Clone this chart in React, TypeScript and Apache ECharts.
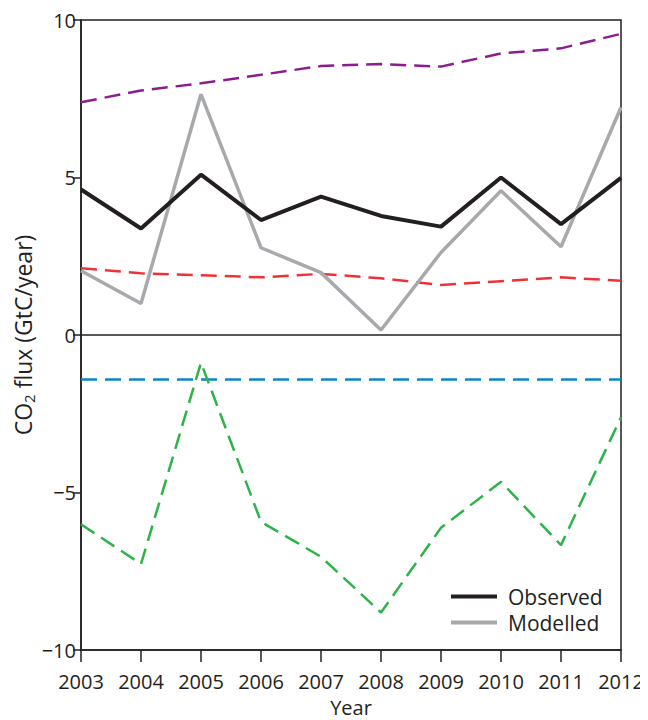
import React, { useEffect, useRef } from "react";
import * as echarts from "echarts";

const years = ["2003", "2004", "2005", "2006", "2007", "2008", "2009", "2010", "2011", "2012"];
const observed = [4.62, 3.38, 5.09, 3.65, 4.39, 3.78, 3.44, 5.0, 3.52, 4.99];
const modelled = [2.04, 1.0, 7.64, 2.77, 1.98, 0.16, 2.62, 4.58, 2.8, 7.23];
const purpleFlux = [7.39, 7.76, 7.99, 8.26, 8.54, 8.6, 8.52, 8.94, 9.1, 9.56];
const redFlux = [2.12, 1.96, 1.9, 1.83, 1.94, 1.8, 1.59, 1.71, 1.83, 1.72];
const blueFlux = [-1.41, -1.41, -1.41, -1.41, -1.41, -1.41, -1.41, -1.41, -1.41, -1.41];
const greenFlux = [-6.01, -7.27, -0.88, -5.93, -7.04, -8.81, -6.12, -4.66, -6.67, -2.61];

const FONT = "'Open Sans', 'Noto Sans', sans-serif";
const INK = "#231f20";

export default function App() {
  const ref = useRef<HTMLDivElement>(null);
  useEffect(() => {
    if (!ref.current) return;
    const chart = echarts.init(ref.current, null, { renderer: "svg" });
    const dashed = (name: string, data: number[], color: string) => ({
      name,
      type: "line",
      data,
      symbol: "none",
      lineStyle: { color, width: 2.5, type: [16, 8] },
      z: 2,
    });
    chart.setOption({
      animation: false,
      backgroundColor: "#ffffff",
      textStyle: { fontFamily: FONT, color: INK },
      grid: {
        left: 73,
        right: 27,
        top: 12,
        bottom: 70,
        containLabel: false,
        outerBoundsMode: "none",
        show: true,
        borderColor: INK,
        borderWidth: 1.5,
        backgroundColor: "transparent",
      },
      legend: {
        data: ["Observed", "Modelled"],
        orient: "vertical",
        left: 438,
        top: 573,
        icon: "rect",
        itemWidth: 46,
        itemHeight: 4,
        itemGap: 5,
        textStyle: { fontFamily: FONT, fontSize: 21, lineHeight: 21, color: INK, padding: [0, 0, 0, 6] },
      },
      xAxis: {
        type: "category",
        data: years,
        boundaryGap: false,
        name: "Year",
        nameLocation: "middle",
        nameGap: 47,
        nameMoveOverlap: false,
        nameTextStyle: { fontFamily: FONT, fontSize: 20, color: INK },
        axisLine: { onZero: false, lineStyle: { color: INK, width: 1.5 } },
        axisTick: { show: true, inside: false, length: 12, lineStyle: { color: INK, width: 1.5 }, alignWithLabel: true },
        axisLabel: { fontFamily: FONT, fontSize: 20, color: INK, margin: 21, interval: 0 },
        splitLine: { show: false },
      },
      yAxis: {
        type: "value",
        min: -10,
        max: 10,
        interval: 5,
        name: "{n|CO}{s|2}{n| flux (GtC/year)}",
        nameLocation: "middle",
        nameGap: 45,
        nameMoveOverlap: false,
        nameRotate: 90,
        nameTextStyle: {
          fontFamily: FONT,
          fontSize: 23,
          color: INK,
          rich: {
            n: { fontFamily: FONT, fontSize: 23, color: INK, lineHeight: 26 },
            s: { fontFamily: FONT, fontSize: 15, color: INK, lineHeight: 14, padding: [12, 0, 0, 0] },
          },
        },
        axisLine: { show: true, lineStyle: { color: INK, width: 1.5 } },
        axisTick: { show: true, inside: false, length: 8, lineStyle: { color: INK, width: 1.5 } },
        axisLabel: {
          fontFamily: FONT,
          fontSize: 20,
          color: INK,
          margin: 5,
          formatter: (v: number) => (v < 0 ? "\u2212" + Math.abs(v) : String(v)),
        },
        splitLine: { show: false },
      },
      series: [
        dashed("Purple", purpleFlux, "#8c1d8f"),
        dashed("Red", redFlux, "#ee3338"),
        {
          ...dashed("Blue", blueFlux, "#0a86c8"),
          markLine: {
            silent: true,
            symbol: "none",
            label: { show: false },
            lineStyle: { color: INK, width: 1.5, type: "solid" },
            data: [{ yAxis: 0 }],
          },
        },
        dashed("Green", greenFlux, "#2db34a"),
        {
          name: "Modelled",
          type: "line",
          data: modelled,
          symbol: "none",
          itemStyle: { color: "#a7a9ac" },
          lineStyle: { color: "#a7a9ac", width: 3.5 },
          z: 3,
        },
        {
          name: "Observed",
          type: "line",
          data: observed,
          symbol: "none",
          itemStyle: { color: INK },
          lineStyle: { color: INK, width: 4 },
          z: 4,
        },
      ],
    });
    return () => chart.dispose();
  }, []);
  return <div ref={ref} style={{ width: 640, height: 712 }} />;
}
